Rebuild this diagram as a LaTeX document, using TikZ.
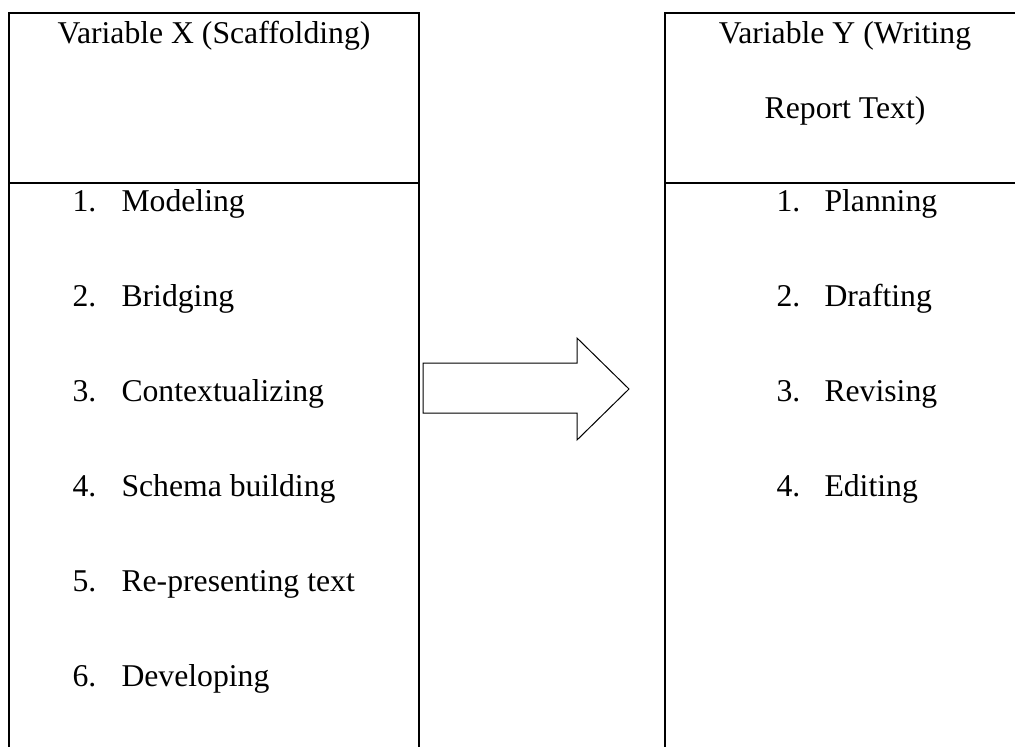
\documentclass[tikz,border=0pt]{standalone}
\usepackage{fontspec}
\setmainfont{Liberation Serif}
\begin{document}
\begin{tikzpicture}[x=1pt,y=-1pt,line width=1pt,
  txt/.style={inner sep=0pt,font=\fontsize{31.7}{37}\selectfont},
  item/.style={txt,anchor=base west},
  head/.style={txt,anchor=base},
  frame/.style={draw=black,line width=1.1pt},
  bigarrow/.style={draw=black,line width=1pt,fill=white,line join=miter}]
\useasboundingbox (0,0) rectangle (1015,747);
% left box
\coordinate (LBL) at (9,747);
\coordinate (LTL) at (9,13);
\coordinate (LTR) at (419,13);
\coordinate (LBR) at (419,747);
\coordinate (LDL) at (9,183);
\coordinate (LDR) at (419,183);
\draw[frame] (LBL) -- (LTL) -- (LTR) -- (LBR);
\draw[frame] (LDL) -- (LDR);
% right box
\coordinate (RBL) at (665,747);
\coordinate (RTL) at (665,13);
\coordinate (RTR) at (1015,13);
\coordinate (RDL) at (665,183);
\coordinate (RDR) at (1015,183);
\draw[frame] (RBL) -- (RTL) -- (RTR);
\draw[frame] (RDL) -- (RDR);
% arrow
\draw[bigarrow] (423,363) -- (577,363) -- (577,338) -- (629,389) -- (577,440) -- (577,413) -- (423,413) -- cycle;
% headers
\node[head] (hx) at (214,43) {Variable X (Scaffolding)};
\node[head] (hy1) at (845,43) {Variable Y (Writing};
\node[head] (hy2) at (845,118) {Report Text)};
% left items
\node[item] (xn1) at (72,211) {1.};
\node[item] (xt1) at (121,211) {Modeling};
\node[item] (xn2) at (72,306) {2.};
\node[item] (xt2) at (121,306) {Bridging};
\node[item] (xn3) at (72,401) {3.};
\node[item] (xt3) at (121,401) {Contextualizing};
\node[item] (xn4) at (72,496) {4.};
\node[item] (xt4) at (121,496) {Schema building};
\node[item] (xn5) at (72,591) {5.};
\node[item] (xt5) at (121,591) {Re-presenting text};
\node[item] (xn6) at (72,686) {6.};
\node[item] (xt6) at (121,686) {Developing};
% right items
\node[item] (yn1) at (776,211) {1.};
\node[item] (yt1) at (824,211) {Planning};
\node[item] (yn2) at (776,306) {2.};
\node[item] (yt2) at (824,306) {Drafting};
\node[item] (yn3) at (776,401) {3.};
\node[item] (yt3) at (824,401) {Revising};
\node[item] (yn4) at (776,496) {4.};
\node[item] (yt4) at (824,496) {Editing};
\end{tikzpicture}
\end{document}
